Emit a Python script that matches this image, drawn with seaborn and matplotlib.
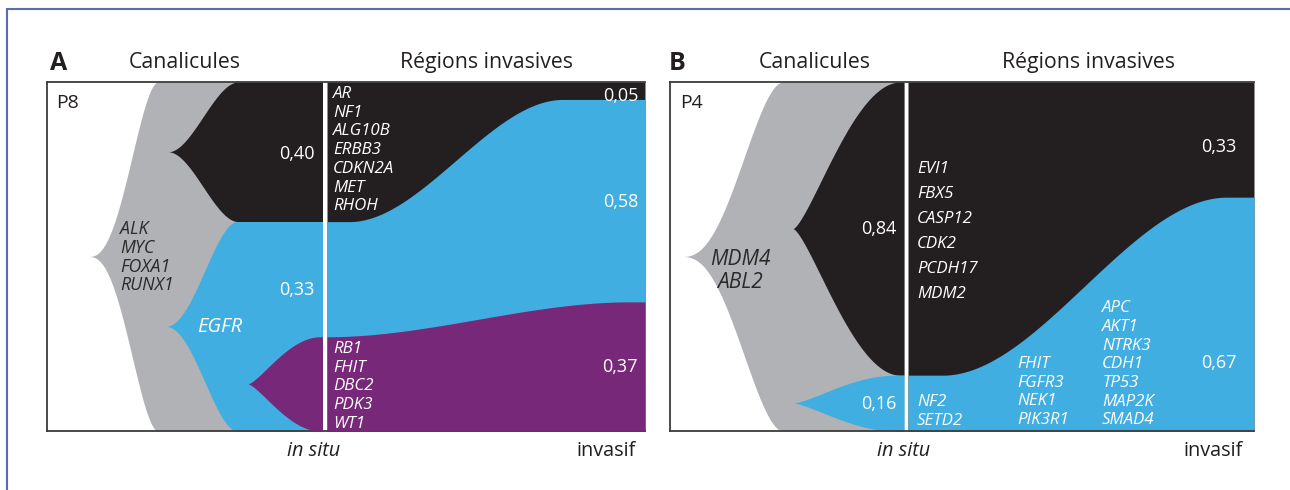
import numpy as np
import matplotlib
matplotlib.use("Agg")
import matplotlib.pyplot as plt
from matplotlib.lines import Line2D
import seaborn as sns

# ---------------- data ----------------
panel_letters = ["A", "B"]
patients = ["P8", "P4"]
section_titles = ["Canalicules", "Régions invasives"]
stage_labels = ["in situ", "invasif"]

# Panel A (P8): clone fractions, order = black, blue, purple
a_insitu = [0.40, 0.33, 0.27]
a_invasif = [0.05, 0.58, 0.37]
a_genes_founder = ["ALK", "MYC", "FOXA1", "RUNX1"]
a_genes_blue = ["EGFR"]
a_genes_black = ["AR", "NF1", "ALG10B", "ERBB3", "CDKN2A", "MET", "RHOH"]
a_genes_purple = ["RB1", "FHIT", "DBC2", "PDK3", "WT1"]

# Panel B (P4): clone fractions, order = black, blue
b_insitu = [0.84, 0.16]
b_invasif = [0.33, 0.67]
b_genes_founder = ["MDM4", "ABL2"]
b_genes_black = ["EVI1", "FBX5", "CASP12", "CDK2", "PCDH17", "MDM2"]
b_genes_blue_1 = ["NF2", "SETD2"]
b_genes_blue_2 = ["FHIT", "FGFR3", "NEK1", "PIK3R1"]
b_genes_blue_3 = ["APC", "AKT1", "NTRK3", "CDH1", "TP53", "MAP2K", "SMAD4"]

# ---------------- style ----------------
sns.set_theme(style="white")
plt.rcParams["font.family"] = ["Open Sans", "DejaVu Sans"]

GREY = "#b1b2b5"
BLACK = "#231f20"
BLUE = "#41aee2"
PURPLE = "#772878"
DARK = "#231f20"
FRAME = "#5a6cb8"

W, H = 1290, 490
fig = plt.figure(figsize=(W / 100, H / 100), dpi=100)
fig.patch.set_facecolor("white")


def fmt(v):
    return f"{v:.2f}".replace(".", ",")


def T(x, y, s, **kw):
    kw.setdefault("va", "center_baseline")
    fig.text(x / W, 1 - y / H, s, **kw)


def column(x, y0, step, items, **kw):
    for i, g in enumerate(items):
        T(x, y0 + i * step, g, **kw)


def make_axes(x0, x1, y0, y1):
    ax = fig.add_axes([x0 / W, 1 - y1 / H, (x1 - x0) / W, (y1 - y0) / H])
    ax.set_xlim(x0, x1)
    ax.set_ylim(0, 1)
    ax.set_xticks([])
    ax.set_yticks([])
    ax.set_facecolor("white")
    for s in ["left", "top", "bottom"]:
        ax.spines[s].set_visible(True)
        ax.spines[s].set_color("#3c3c3c")
        ax.spines[s].set_linewidth(1.3)
    ax.spines["right"].set_visible(False)
    return ax


def ease(u, p=1.0):
    u = np.clip(u, 0, 1) ** p
    return u * u * (3 - 2 * u)


def bud(ax, x_tip, x_full, x_stop, center, half, color, p=1.0, z=1):
    x = np.linspace(x_tip, x_stop, 800)
    h = half * ease((x - x_tip) / (x_full - x_tip), p)
    ax.fill_between(x, center - h, center + h, color=color, lw=0, zorder=z)


def shift(x, xa, xb, f0, f1, a, b):
    u = (x - xa) / (xb - xa)
    return f0 + (f1 - f0) * ease((u - a) / (b - a))


# ---------------- Panel A ----------------
axA = make_axes(47, 645, 82, 431)
div_a0, div_a1 = 322.5, 327.0
bud(axA, 88, 158, div_a0, 0.5, 0.5, GREY, p=1.3, z=1)
bud(axA, 168, 238, div_a0, 1 - a_insitu[0] / 2, a_insitu[0] / 2, BLACK, p=1.0, z=2)
blue_tot = a_insitu[1] + a_insitu[2]
bud(axA, 165, 237, div_a0, blue_tot / 2, blue_tot / 2, BLUE, p=1.1, z=2)
bud(axA, 248, 320, div_a0, a_insitu[2] / 2, a_insitu[2] / 2, PURPLE, p=0.72, z=3)

xr = np.linspace(div_a1, 645, 800)
axA.fill_between(xr, 0, 1, color=BLACK, lw=0, zorder=1)
bb = shift(xr, div_a1, 645, 1 - a_insitu[0], 1 - a_invasif[0], 0.07, 0.74)
axA.fill_between(xr, 0, bb, color=BLUE, lw=0, zorder=2)
bp = shift(xr, div_a1, 645, a_insitu[2], a_invasif[2], 0.0, 0.95)
axA.fill_between(xr, 0, bp, color=PURPLE, lw=0, zorder=3)

# ---------------- Panel B ----------------
axB = make_axes(670, 1254, 82, 431)
div_b0, div_b1 = 904.0, 908.0
bud(axB, 682, 783, div_b0, 0.5, 0.5, GREY, p=1.25, z=1)
bud(axB, 793, 900, div_b0, 1 - b_insitu[0] / 2, b_insitu[0] / 2, BLACK, p=0.72, z=2)
bud(axB, 793, 895, div_b0, b_insitu[1] / 2, b_insitu[1] / 2, BLUE, p=0.75, z=2)

xr = np.linspace(div_b1, 1254, 800)
axB.fill_between(xr, 0, 1, color=BLACK, lw=0, zorder=1)
bb = shift(xr, div_b1, 1254, b_insitu[1], b_invasif[1], 0.1, 0.92)
axB.fill_between(xr, 0, bb, color=BLUE, lw=0, zorder=2)

# ---------------- outer frame ----------------
fig.add_artist(Line2D([7 / W, 1], [1 - 9 / H, 1 - 9 / H], transform=fig.transFigure,
                      color=FRAME, lw=1.5))
fig.add_artist(Line2D([7 / W, 7 / W], [1 - 9 / H, 0], transform=fig.transFigure,
                      color=FRAME, lw=1.5))

# ---------------- texts: panel A ----------------
hdr = dict(fontsize=15.3, color=DARK)
T(50, 60, panel_letters[0], fontsize=18, fontweight="bold", color=DARK, ha="left")
T(185, 60, section_titles[0], ha="center", **hdr)
T(486, 60, section_titles[1], ha="center", **hdr)
T(56, 101, patients[0], fontsize=14, color=DARK, ha="left")

gene = dict(fontsize=12.2, style="italic")
num = dict(fontsize=13, color="white", ha="right")
column(120, 227, 18.8, a_genes_founder, color="#2a2a2a", ha="left", fontsize=12.8,
       style="italic")
T(220, 325, a_genes_blue[0], fontsize=14.5, style="italic", color="white", ha="center")
column(333, 92, 18.7, a_genes_black, color="white", ha="left", **gene)
column(333, 347, 18.75, a_genes_purple, color="white", ha="left", **gene)
T(315, 152, fmt(a_insitu[0]), **num)
T(315, 288, fmt(a_insitu[1]), **num)
T(638, 94, fmt(a_invasif[0]), **num)
T(638, 200, fmt(a_invasif[1]), **num)
T(638, 365, fmt(a_invasif[2]), **num)
T(314, 448, stage_labels[0], fontsize=14.3, style="italic", color=DARK, ha="center")
T(606, 448, stage_labels[1], fontsize=14.3, color=DARK, ha="center")

# ---------------- texts: panel B ----------------
T(669, 60, panel_letters[1], fontsize=18, fontweight="bold", color=DARK, ha="left")
T(815, 60, section_titles[0], ha="center", **hdr)
T(1088, 60, section_titles[1], ha="center", **hdr)
T(680, 101, patients[1], fontsize=14, color=DARK, ha="left")

column(740, 257, 23, b_genes_founder, fontsize=15, style="italic", color="#2a2a2a",
       ha="center")
T(897, 227, fmt(b_insitu[0]), **num)
T(897, 402, fmt(b_insitu[1]), **num)
column(917, 167, 25, b_genes_black, color="white", ha="left", **gene)
T(1237, 145, fmt(b_invasif[0]), **num)
T(1237, 361, fmt(b_invasif[1]), **num)
column(917, 400, 18.5, b_genes_blue_1, color="white", ha="left", **gene)
column(1017, 362, 18.7, b_genes_blue_2, color="white", ha="left", **gene)
column(1102, 306.5, 18.6, b_genes_blue_3, color="white", ha="left", **gene)
T(904, 448, stage_labels[0], fontsize=14.3, style="italic", color=DARK, ha="center")
T(1213, 448, stage_labels[1], fontsize=14.3, color=DARK, ha="center")

fig.savefig("out.png", dpi=100, facecolor="white")
